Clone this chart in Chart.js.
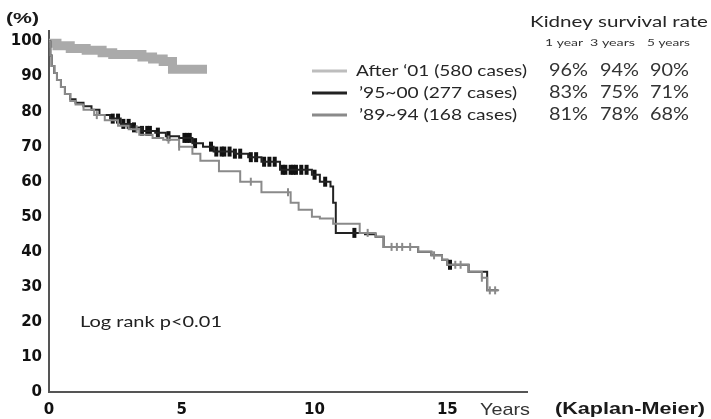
<!DOCTYPE html>
<html>
<head>
<meta charset="utf-8">
<script src="https://cdn.jsdelivr.net/npm/chart.js@4"></script>
<style>
  html, body { margin: 0; padding: 0; background: #fff; }
  #wrap { position: relative; width: 711px; height: 419px; }
</style>
</head>
<body>
<div id="wrap"><canvas id="km" width="711" height="419"></canvas></div>
<script>
// Kaplan-Meier kidney survival, three eras
const after01Years = [0, 0.3, 0.8, 1.4, 2.0, 2.4, 3.5, 3.9, 4.3, 4.65, 5.95];
const after01Surv  = [99.5, 98.8, 98.0, 97.5, 96.8, 96.3, 95.6, 95.0, 94.3, 92.1, 92.1];

const era95Years = [0, 0.05, 0.1, 0.2, 0.3, 0.45, 0.6, 0.8, 1.0, 1.3, 1.6, 1.9, 2.3, 2.7, 3.1, 3.5, 4.0, 4.4, 4.9, 5.4, 5.8, 6.2, 7.0, 7.5, 8.0, 8.7, 9.9, 10.2, 10.6, 10.7, 10.8, 11.9, 12.3, 12.6, 13.9, 14.4, 14.8, 15.0, 15.8, 16.5, 16.9];
const era95Surv  = [100, 96, 93, 91, 89, 87, 85, 83.5, 82.5, 81.5, 80.5, 79, 78, 76.5, 75.5, 74.5, 74, 73, 72.5, 71, 70, 68.6, 68, 67, 65.7, 63.4, 62, 60, 58.6, 54, 45.4, 45, 44.3, 41.4, 40, 39, 37.7, 36.3, 34.3, 29, 29];
const era95Censor = [2.4, 2.6, 2.8, 3.0, 3.2, 3.5, 3.7, 3.8, 4.1, 4.5, 5.1, 5.2, 5.3, 5.5, 6.1, 6.3, 6.5, 6.6, 6.8, 7.0, 7.2, 7.6, 7.8, 8.1, 8.3, 8.5, 8.8, 8.9, 9.1, 9.2, 9.3, 9.5, 9.7, 10.0, 10.4, 11.5, 15.1];

const era89Years = [0, 0.05, 0.1, 0.2, 0.3, 0.45, 0.6, 0.8, 1.0, 1.3, 1.7, 2.1, 2.6, 3.0, 3.4, 3.9, 4.3, 4.9, 5.4, 5.7, 6.4, 7.2, 8.0, 9.1, 9.4, 9.9, 10.2, 10.7, 11.7, 12.3, 12.6, 13.9, 14.4, 14.8, 15.0, 15.8, 16.3, 16.5, 16.95];
const era89Surv  = [100, 96, 93, 91, 89, 87, 85, 83, 82, 80.5, 79, 77.5, 76, 75, 73.4, 72.5, 72, 70, 68, 66, 63, 60, 57, 54, 52, 50, 49.5, 48, 45.4, 44.3, 41.4, 40, 39, 37.7, 36.3, 34.3, 32.6, 29, 29];
const era89Censor = [1.8, 3.3, 4.5, 4.9, 7.6, 9.0, 12.0, 12.9, 13.1, 13.3, 13.6, 14.5, 15.3, 15.5, 16.3, 16.6, 16.8];

const xTicks = [0, 5, 10, 15];
const yTicks = [0, 10, 20, 30, 40, 50, 60, 70, 80, 90, 100];

const legendLabels = ["After \u201801 (580 cases)", "\u201995~00 (277 cases)", "\u201989~94 (168 cases)"];
const rateHeaders = ["1 year", "3 years", "5 years"];
const rates = [["96%", "94%", "90%"], ["83%", "75%", "71%"], ["81%", "78%", "68%"]];

const toPoints = (xs, ys) => xs.map((x, i) => ({ x, y: ys[i] }));
const survAt = (xs, ys, t) => {
  let v = ys[0];
  xs.forEach((x, i) => { if (x <= t) v = ys[i]; });
  return v;
};
const censorPoints = (xs, ys, times) => times.map(t => ({ x: t, y: survAt(xs, ys, t) }));

const colAfter = "#aaaaaa";
const col95 = "#222222";
const col89 = "#8a8a8a";

// draw text squeezed/stretched to a given width
const fitText = (ctx, text, x, y, w, font, color) => {
  ctx.save();
  ctx.font = font;
  ctx.fillStyle = color;
  ctx.textAlign = "left";
  ctx.textBaseline = "middle";
  const m = ctx.measureText(text).width;
  ctx.translate(x, y);
  ctx.scale(w / m, 1);
  ctx.fillText(text, 0, 0);
  ctx.restore();
};

const annotations = {
  id: "annotations",
  afterDraw(chart) {
    const ctx = chart.ctx;
    const bold = "bold 15px 'Liberation Sans', Arial, sans-serif";
    const body = "16px Lato, sans-serif";

    fitText(ctx, "(%)", 6, 19, 33, bold, "#1a1a1a");
    fitText(ctx, "Years", 480, 410, 50, "17px 'Liberation Sans', Arial, sans-serif", "#333");
    fitText(ctx, "(Kaplan-Meier)", 555, 410, 150, "bold 16px 'Liberation Sans', Arial, sans-serif", "#1a1a1a");
    fitText(ctx, "Log rank p<0.01", 80, 322, 142, body, "#222");

    // legend
    const cols = ["#bdbdbd", col95, col89];
    const rows = [71, 93, 115];
    const labW = [171, 158, 158];
    legendLabels.forEach((lab, i) => {
      ctx.save();
      ctx.strokeStyle = cols[i];
      ctx.lineWidth = 3;
      ctx.beginPath();
      ctx.moveTo(312, rows[i]);
      ctx.lineTo(347, rows[i]);
      ctx.stroke();
      ctx.restore();
      fitText(ctx, lab, i === 0 ? 356 : 359, rows[i], labW[i], body, "#262626");
    });

    // survival rate table
    fitText(ctx, "Kidney survival rate", 530, 22, 178, body, "#262626");
    const headX = [545, 590, 647];
    const headW = [38, 45, 43];
    rateHeaders.forEach((h, j) => fitText(ctx, h, headX[j], 43, headW[j], "9px Lato, sans-serif", "#333"));
    const rateX = [549, 600, 650];
    rates.forEach((r, i) => r.forEach((v, j) => fitText(ctx, v, rateX[j], rows[i], 39, "17px Lato, sans-serif", "#333")));
  }
};

const tickFont = { family: "'DejaVu Sans', sans-serif", size: 15, weight: "bold" };

new Chart(document.getElementById("km"), {
  type: "line",
  data: {
    datasets: [
      {
        label: legendLabels[0],
        data: toPoints(after01Years, after01Surv),
        borderColor: colAfter,
        borderWidth: 9,
        stepped: true,
        pointRadius: 0,
        order: 3,
      },
      {
        label: legendLabels[2],
        data: toPoints(era89Years, era89Surv),
        borderColor: col89,
        borderWidth: 2,
        stepped: true,
        pointRadius: 0,
        order: 1,
      },
      {
        label: legendLabels[1],
        data: toPoints(era95Years, era95Surv),
        borderColor: col95,
        borderWidth: 2,
        stepped: true,
        pointRadius: 0,
        order: 2,
      },
      {
        label: "censor89",
        data: censorPoints(era89Years, era89Surv, era89Censor),
        showLine: false,
        pointStyle: "line",
        rotation: 90,
        pointRadius: 4,
        borderColor: col89,
        borderWidth: 2,
        order: 1,
      },
      {
        label: "censor95",
        data: censorPoints(era95Years, era95Surv, era95Censor),
        showLine: false,
        pointStyle: "line",
        rotation: 90,
        pointRadius: 5,
        borderColor: "#111",
        borderWidth: 4,
        order: 2,
      },
    ],
  },
  options: {
    responsive: false,
    animation: false,
    devicePixelRatio: 1,
    layout: { padding: { top: 31, right: 184, bottom: 0, left: 0 } },
    plugins: { legend: { display: false }, tooltip: { enabled: false } },
    scales: {
      x: {
        type: "linear",
        min: 0,
        max: 18,
        afterBuildTicks: s => { s.ticks = xTicks.map(v => ({ value: v })); },
        afterFit: s => { s.height = 27; },
        grid: { display: false, drawTicks: true, tickLength: 5, tickColor: "#555", tickWidth: 2 },
        border: { color: "#555", width: 2 },
        ticks: { autoSkip: false, maxRotation: 0, color: "#111", padding: 4, font: tickFont },
      },
      y: {
        min: 0,
        max: 103,
        afterBuildTicks: s => { s.ticks = yTicks.map(v => ({ value: v })); },
        afterFit: s => { s.width = 49; },
        grid: { display: false, drawTicks: true, tickLength: 5, tickColor: "#555", tickWidth: 2 },
        border: { color: "#555", width: 2 },
        ticks: { autoSkip: false, color: "#111", padding: 2, font: tickFont },
      },
    },
  },
  plugins: [annotations],
});
</script>
</body>
</html>
